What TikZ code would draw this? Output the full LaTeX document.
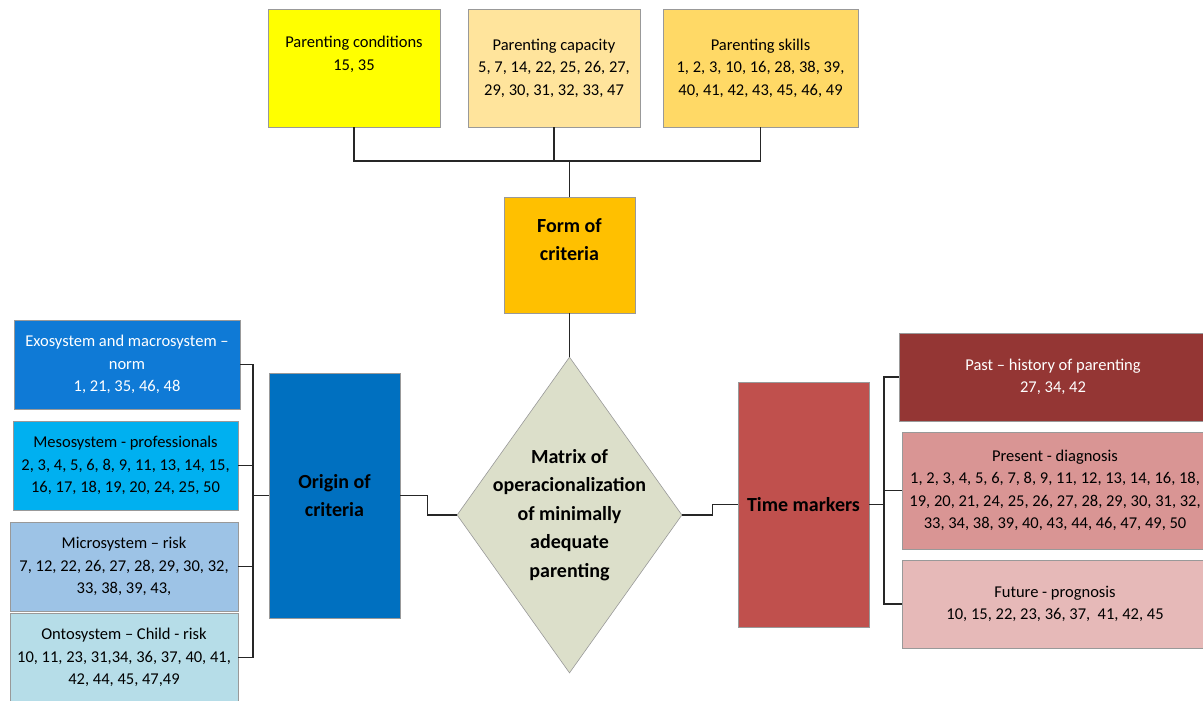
\documentclass[tikz,border=0pt]{standalone}
\usepackage{fontspec}
\setmainfont{Carlito}
\usetikzlibrary{shapes.geometric}
\definecolor{condcol}{HTML}{FFFF00}
\definecolor{capcol}{HTML}{FFE49C}
\definecolor{skillcol}{HTML}{FFD966}
\definecolor{formcol}{HTML}{FFC000}
\definecolor{matrixcol}{HTML}{DCDFCA}
\definecolor{origincol}{HTML}{0070C0}
\definecolor{exocol}{HTML}{0F7AD6}
\definecolor{mesocol}{HTML}{00B0F0}
\definecolor{microcol}{HTML}{9DC3E6}
\definecolor{ontocol}{HTML}{B6DDE8}
\definecolor{timecol}{HTML}{C0504D}
\definecolor{pastcol}{HTML}{943634}
\definecolor{presentcol}{HTML}{D99594}
\definecolor{futurecol}{HTML}{E6B9B8}
\begin{document}
\begin{tikzpicture}[x=1pt,y=-1pt,
    crit/.style={draw=black!40, line width=0.6pt, inner sep=0pt, align=center,
      font=\fontsize{16.5}{22.5}\selectfont},
    hub/.style={crit, font=\bfseries\fontsize{20}{28}\selectfont},
    wire/.style={line width=1.1pt, draw=black!85}]
  \useasboundingbox (0,0) rectangle (1203,701);
  % form of criteria
  \node[crit, fill=condcol, minimum width=172pt, minimum height=118pt] (cond) at (354,68) {Parenting conditions\\15, 35\\\strut};
  \node[crit, fill=capcol, minimum width=172pt, minimum height=118pt] (cap) at (554,68) {Parenting capacity\\5, 7, 14, 22, 25, 26, 27,\\29, 30, 31, 32, 33, 47};
  \node[crit, fill=skillcol, minimum width=195pt, minimum height=118pt] (skills) at (760.5,68) {Parenting skills\\1, 2, 3, 10, 16, 28, 38, 39,\\40, 41, 42, 43, 45, 46, 49};
  \node[hub, fill=formcol, minimum width=131pt, minimum height=116pt] (form) at (569.5,255) {Form of\\criteria\\[-6pt]\strut};
  % centre
  \node[diamond, draw=black!40, line width=0.6pt, fill=matrixcol, inner sep=0pt, minimum width=225pt, minimum height=316pt] (matrix) at (569.5,515) {};
  \node[align=center, font=\bfseries\fontsize{20}{28.5}\selectfont] (matrixtxt) at (matrix.center) {Matrix of\\operacionalization\\of minimally\\adequate\\parenting};
  % origin of criteria
  \node[hub, fill=origincol, minimum width=131pt, minimum height=245pt] (origin) at (334.5,495.5) {Origin of\\criteria};
  \node[crit, fill=exocol, text=white, minimum width=226pt, minimum height=89pt] (exo) at (127,364.5) {Exosystem and macrosystem –\\norm\\1, 21, 35, 46, 48};
  \node[crit, fill=mesocol, minimum width=225pt, minimum height=89pt] (meso) at (125.5,465.5) {Mesosystem - professionals\\2, 3, 4, 5, 6, 8, 9, 11, 13, 14, 15,\\16, 17, 18, 19, 20, 24, 25, 50};
  \node[crit, fill=microcol, minimum width=228pt, minimum height=89pt] (micro) at (124,566.5) {Microsystem – risk\\7, 12, 22, 26, 27, 28, 29, 30, 32,\\33, 38, 39, 43,};
  \node[crit, fill=ontocol, minimum width=228pt, minimum height=89pt] (onto) at (124,657.5) {Ontosystem – Child - risk\\10, 11, 23, 31,34, 36, 37, 40, 41,\\42, 44, 45, 47,49};
  % time markers
  \node[hub, fill=timecol, minimum width=131pt, minimum height=245pt] (time) at (803.5,504.5) {Time markers};
  \node[crit, fill=pastcol, text=white, minimum width=308pt, minimum height=88pt] (past) at (1053,377) {Past – history of parenting\\27, 34, 42};
  \node[crit, fill=presentcol, minimum width=306pt, minimum height=117pt] (present) at (1055,490.5) {Present - diagnosis\\1, 2, 3, 4, 5, 6, 7, 8, 9, 11, 12, 13, 14, 16, 18,\\19, 20, 21, 24, 25, 26, 27, 28, 29, 30, 31, 32,\\33, 34, 38, 39, 40, 43, 44, 46, 47, 49, 50};
  \node[crit, fill=futurecol, minimum width=306pt, minimum height=88pt] (future) at (1055,604) {Future - prognosis\\10, 15, 22, 23, 36, 37,~ 41, 42, 45};
  % buses
  \coordinate (topbus) at (569.5,161);
  \coordinate (leftbus) at (253,0);
  \coordinate (rightbus) at (884,0);
  % connectors
  \draw[wire] (cond.south) |- (skills.south |- topbus) -- (skills.south);
  \draw[wire] (cap.south) -- (cap.south |- topbus);
  \draw[wire] (topbus) -- (form.north);
  \draw[wire] (form.south) -- (matrix.north);
  \draw[wire] (origin.east) -- ++(27,0) |- (matrix.west);
  \draw[wire] (matrix.east) -- ++(30,0) |- (time.west);
  \draw[wire] (exo.east) -| (leftbus |- onto.east) -- (onto.east);
  \draw[wire] (meso.east) -- (meso.east -| leftbus);
  \draw[wire] (micro.east) -- (micro.east -| leftbus);
  \draw[wire] (origin.west) -- (origin.west -| leftbus);
  \draw[wire] (past.west) -| (rightbus |- future.west) -- (future.west);
  \draw[wire] (present.west) -- (present.west -| rightbus);
  \draw[wire] (time.east) -- (time.east -| rightbus);
\end{tikzpicture}
\end{document}
